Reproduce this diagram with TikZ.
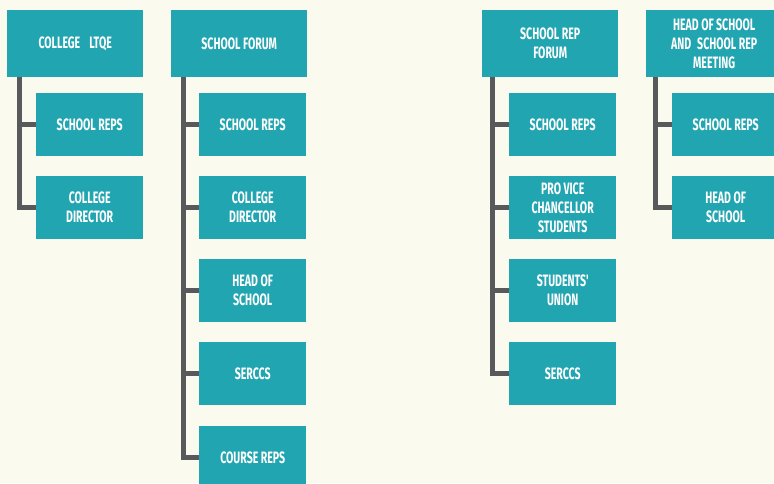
\documentclass[tikz,border=0pt]{standalone}
\usepackage{fontspec}
\newfontfamily\boxfont[FakeStretch=0.64]{Fira Sans}
\usetikzlibrary{positioning}
\definecolor{PaperCream}{RGB}{250,250,238}
\definecolor{BoxTeal}{RGB}{33,165,177}
\definecolor{LinkGrey}{RGB}{88,89,91}
\tikzset{
  headbox/.style={fill=BoxTeal, text=white, anchor=north west, inner sep=0pt,
    minimum width=136pt, minimum height=67pt, align=center,
    font=\boxfont\bfseries\fontsize{16.5}{19}\selectfont},
  memberbox/.style={headbox, minimum width=107pt, minimum height=63pt},
  link/.style={LinkGrey, line width=5pt, line join=miter}
}

\begin{document}
\begin{tikzpicture}[x=1pt, y=-1pt]
    \fill[PaperCream] (0,0) rectangle (774,483);
    \useasboundingbox (0,0) rectangle (774,483);
    \clip (0,0) rectangle (774,483);

    % College LTQE
    \node[headbox] (ltqe) at (7,10) {COLLEGE\hspace{9pt}LTQE};
    \coordinate (ltqetrunk) at (19.5,77);
    \foreach \n/\y/\txt in {ltqea/93/{SCHOOL REPS}, ltqeb/176/{COLLEGE\\DIRECTOR}} {
      \node[memberbox] (\n) at (36,\y) {\txt};
      \draw[link] (ltqetrunk) |- (\n.west);
    }

    % School forum
    \node[headbox] (forum) at (171,10) {SCHOOL FORUM};
    \coordinate (forumtrunk) at (183,77);
    \foreach \n/\y/\txt in {foruma/93/{SCHOOL REPS}, forumb/176/{COLLEGE\\DIRECTOR},
        forumc/259/{HEAD OF\\SCHOOL}, forumd/342/{SERCCS}, forume/426/{COURSE REPS}} {
      \node[memberbox] (\n) at (199,\y) {\txt};
      \draw[link] (forumtrunk) |- (\n.west);
    }

    % School rep forum
    \node[headbox] (repforum) at (482,10) {SCHOOL REP\\FORUM};
    \coordinate (repforumtrunk) at (492.5,77);
    \foreach \n/\y/\txt in {repforuma/93/{SCHOOL REPS}, repforumb/176/{PRO VICE\\CHANCELLOR\\STUDENTS},
        repforumc/259/{STUDENTS'\\UNION}, repforumd/342/{SERCCS}} {
      \node[memberbox] (\n) at (509,\y) {\txt};
      \draw[link] (repforumtrunk) |- (\n.west);
    }

    % Head of school meeting
    \node[headbox] (meeting) at (646,10) {HEAD OF SCHOOL\\AND\hspace{6pt}SCHOOL REP\\MEETING};
    \coordinate (meetingtrunk) at (655.5,77);
    \foreach \n/\y/\txt in {meetinga/93/{SCHOOL REPS}, meetingb/176/{HEAD OF\\SCHOOL}} {
      \node[memberbox] (\n) at (672,\y) {\txt};
      \draw[link] (meetingtrunk) |- (\n.west);
    }
  \end{tikzpicture}
\end{document}
